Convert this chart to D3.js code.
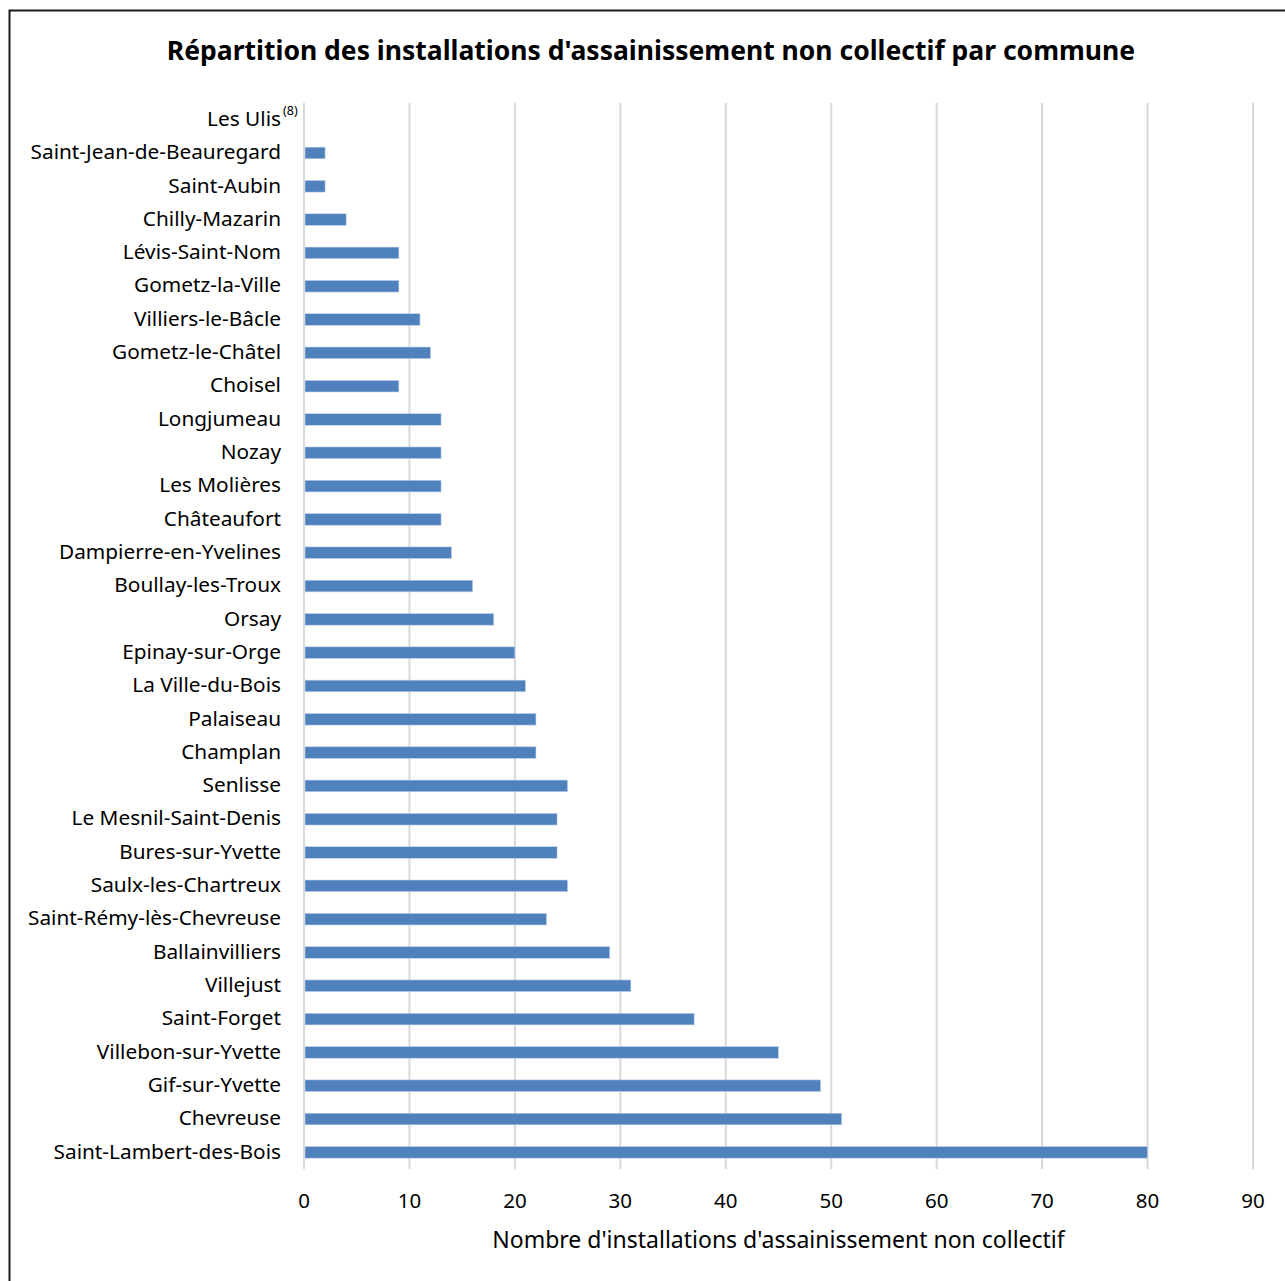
<!DOCTYPE html>
<html>
<head>
<meta charset="utf-8">
<script src="https://cdn.jsdelivr.net/npm/d3@7"></script>
<style>
  body { margin: 0; background: #fff; }
  svg text { font-family: "Noto Sans", "Open Sans", sans-serif; fill: #000; }
</style>
</head>
<body>
<svg id="chart" width="1285" height="1281"></svg>
<script>
// communes, top to bottom as in the picture
const communes = [
    "Les Ulis", "Saint-Jean-de-Beauregard", "Saint-Aubin", "Chilly-Mazarin",
    "Lévis-Saint-Nom", "Gometz-la-Ville", "Villiers-le-Bâcle", "Gometz-le-Châtel",
    "Choisel", "Longjumeau", "Nozay", "Les Molières", "Châteaufort",
    "Dampierre-en-Yvelines", "Boullay-les-Troux", "Orsay", "Epinay-sur-Orge",
    "La Ville-du-Bois", "Palaiseau", "Champlan", "Senlisse", "Le Mesnil-Saint-Denis",
    "Bures-sur-Yvette", "Saulx-les-Chartreux", "Saint-Rémy-lès-Chevreuse",
    "Ballainvilliers", "Villejust", "Saint-Forget", "Villebon-sur-Yvette",
    "Gif-sur-Yvette", "Chevreuse", "Saint-Lambert-des-Bois"
];
const installations = [
    0, 2, 2, 4,
    9, 9, 11, 12,
    9, 13, 13, 13, 13,
    14, 16, 18, 20,
    21, 22, 22, 25, 24,
    24, 25, 23,
    29, 31, 37, 45,
    49, 51, 80
];
const xTicks = [0, 10, 20, 30, 40, 50, 60, 70, 80, 90];
const footnotes = { "Les Ulis": "(8)" };

const chartTitle = "Répartition des installations d'assainissement non collectif par commune";
const xTitle = "Nombre d'installations d'assainissement non collectif";

const svg = d3.select('#chart');

// outer frame (only left and top edges fall inside the picture)
svg.append("rect")
    .attr("x", 9.5).attr("y", 10.5)
    .attr("width", 1300).attr("height", 1300)
    .attr("fill", "none")
    .attr("stroke", "#1a1a1a")
    .attr("stroke-width", 2);

const margin = { left: 304, right: 32, top: 103, bottom: 112 };
const width = 1285 - margin.left - margin.right;
const height = 1281 - margin.top - margin.bottom;

const x = d3.scaleLinear().domain([0, 90]).range([0, width]);
const y = d3.scaleBand().domain(communes).range([0, height]).paddingInner(0.65).paddingOuter(0.325);

const g = svg.append("g").attr("transform", `translate(${margin.left},${margin.top})`);

// vertical gridlines
g.selectAll("line.grid")
    .data(xTicks)
    .enter()
    .append("line")
    .attr("class", "grid")
    .attr("x1", d => x(d)).attr("x2", d => x(d))
    .attr("y1", 0).attr("y2", height)
    .attr("stroke", "#d9d9d9")
    .attr("stroke-width", 2);

// bars
g.selectAll("rect.bar")
    .data(communes)
    .enter()
    .append("rect")
    .attr("class", "bar")
    .attr("x", x(0) + 1)
    .attr("y", d => y(d))
    .attr("width", (d, i) => Math.max(0, x(installations[i]) - x(0) - 1))
    .attr("height", y.bandwidth())
    .attr("fill", "#4f81bd")
    .attr("stroke", "#c6d5ea")
    .attr("stroke-width", 0.6);

// category labels
g.selectAll("text.cat")
    .data(communes)
    .enter()
    .append("text")
    .attr("class", "cat")
    .attr("x", -23)
    .attr("y", d => y(d) + y.bandwidth() / 2 - 1)
    .attr("dy", "0.35em")
    .attr("text-anchor", "end")
    .style("font-size", "20.8px")
    .text(d => d);

// superscript footnote marker, just after the name
g.selectAll("text.note")
    .data(communes.filter(d => footnotes[d]))
    .enter()
    .append("text")
    .attr("class", "note")
    .attr("x", -21)
    .attr("y", d => y(d) + y.bandwidth() / 2 - 5)
    .style("font-size", "12.5px")
    .text(d => footnotes[d]);

// x tick labels
g.selectAll("text.tick")
    .data(xTicks)
    .enter()
    .append("text")
    .attr("class", "tick")
    .attr("x", d => x(d))
    .attr("y", height + 39)
    .attr("text-anchor", "middle")
    .style("font-size", "20.5px")
    .text(d => d);

// axis title
g.append("text")
    .attr("x", width / 2)
    .attr("y", height + 79)
    .attr("text-anchor", "middle")
    .style("font-size", "23px")
    .text(xTitle);

// chart title
svg.append("text")
    .attr("x", 651)
    .attr("y", 60)
    .attr("text-anchor", "middle")
    .style("font-size", "26.5px")
    .style("font-weight", "bold")
    .text(chartTitle);
</script>
</body>
</html>
